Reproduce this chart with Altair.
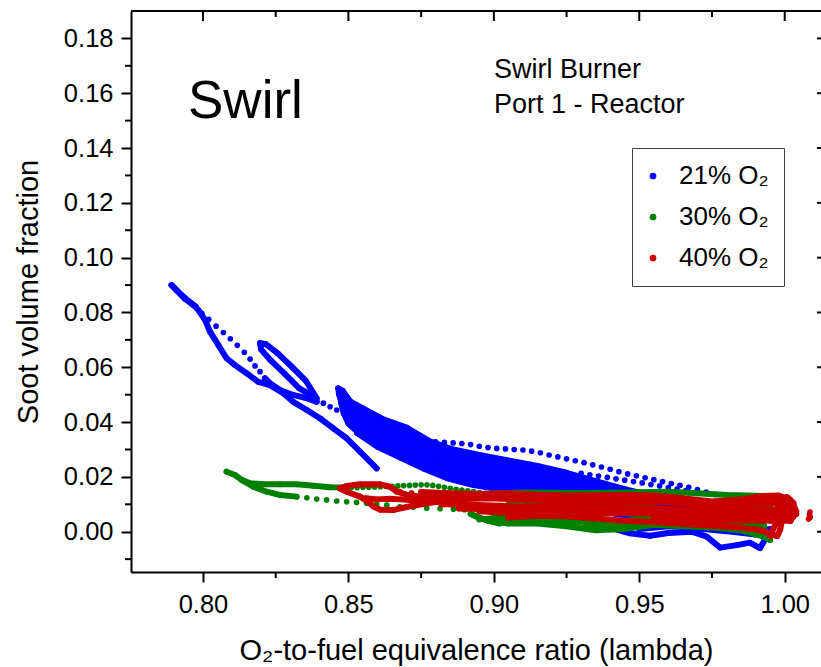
import altair as alt
import pandas as pd

FONT = "Liberation Sans"
SERIES = ["21% O₂", "30% O₂", "40% O₂"]
COLORS = ["#0000FF", "#008000", "#C80000"]

X_MAJOR = [0.80, 0.85, 0.90, 0.95, 1.00]
X_MINOR = [0.825, 0.875, 0.925, 0.975]
Y_MAJOR = [0.00, 0.02, 0.04, 0.06, 0.08, 0.10, 0.12, 0.14, 0.16, 0.18]
Y_MINOR = [-0.01, 0.01, 0.03, 0.05, 0.07, 0.09, 0.11, 0.13, 0.15, 0.17]

ANNOT = ["Swirl", "Swirl Burner", "Port 1 - Reactor"]

# ---- 21% O2 (blue) : continuous trajectories (lambda, soot fv) ----
BLUE_RUNS = [
    [(0.7892, 0.0900), (0.7932, 0.0858), (0.7967, 0.0827), (0.7984, 0.0809), (0.8007, 0.0773),
     (0.8024, 0.0730), (0.8053, 0.0681), (0.8081, 0.0633), (0.8110, 0.0608), (0.8150, 0.0578),
     (0.8190, 0.0547), (0.8230, 0.0535), (0.8276, 0.0505), (0.8310, 0.0474), (0.8357, 0.0444),
     (0.8402, 0.0414), (0.8448, 0.0377), (0.8494, 0.0341), (0.8540, 0.0292), (0.8586, 0.0243),
     (0.8597, 0.0231)],
    [(0.7892, 0.0900), (0.7940, 0.0848), (0.7975, 0.0822)],
    [(0.8213, 0.0560), (0.8230, 0.0542), (0.8265, 0.0517), (0.8310, 0.0499), (0.8357, 0.0487),
     (0.8391, 0.0474)],
    [(0.8196, 0.0688), (0.8215, 0.0685), (0.8257, 0.0651), (0.8306, 0.0601), (0.8354, 0.0550),
     (0.8391, 0.0487), (0.8330, 0.0524), (0.8282, 0.0575), (0.8233, 0.0625), (0.8200, 0.0665),
     (0.8196, 0.0688)],
    [(0.8465, 0.0523), (0.8480, 0.0515), (0.8494, 0.0493), (0.8511, 0.0469), (0.8495, 0.0465),
     (0.8477, 0.0474), (0.8468, 0.0500), (0.8465, 0.0523)],
    [(0.8470, 0.0505), (0.8475, 0.0470), (0.8485, 0.0430), (0.8500, 0.0395), (0.8530, 0.0365)],
    [(0.848, 0.049), (0.855, 0.045), (0.862, 0.041), (0.870, 0.038), (0.878, 0.033), (0.886, 0.030),
     (0.895, 0.028), (0.905, 0.026), (0.915, 0.024), (0.925, 0.0215), (0.935, 0.0185), (0.945, 0.0155),
     (0.955, 0.013), (0.965, 0.011), (0.975, 0.009), (0.985, 0.007), (0.992, 0.0055)],
    [(0.8485, 0.0475), (0.8555, 0.0435), (0.8625, 0.0400), (0.8705, 0.0365), (0.8785, 0.0320),
     (0.8865, 0.0288), (0.8955, 0.0268), (0.9055, 0.0248), (0.9155, 0.0228), (0.9255, 0.0203),
     (0.9355, 0.0175), (0.9455, 0.0145), (0.9555, 0.0122), (0.9655, 0.0102), (0.9755, 0.0082),
     (0.9855, 0.0062), (0.9925, 0.0048)],
    [(0.849, 0.046), (0.856, 0.042), (0.863, 0.039), (0.871, 0.035), (0.879, 0.031), (0.887, 0.0275),
     (0.896, 0.0255), (0.906, 0.0235), (0.916, 0.0215), (0.926, 0.019), (0.936, 0.0165), (0.946, 0.0135),
     (0.956, 0.0115), (0.966, 0.0095), (0.976, 0.0075), (0.986, 0.0055), (0.993, 0.004)],
    [(0.8495, 0.0445), (0.8565, 0.0405), (0.8635, 0.0370), (0.8715, 0.0330), (0.8795, 0.0288),
     (0.8880, 0.0258), (0.8970, 0.0240), (0.9070, 0.0218), (0.9170, 0.0198), (0.9270, 0.0172),
     (0.9370, 0.0148), (0.9470, 0.0120), (0.9570, 0.0100), (0.9670, 0.0080), (0.9770, 0.0062),
     (0.9870, 0.0045)],
    [(0.850, 0.043), (0.857, 0.039), (0.864, 0.035), (0.872, 0.031), (0.880, 0.0265), (0.889, 0.024),
     (0.898, 0.0225), (0.908, 0.020), (0.918, 0.018), (0.928, 0.0155), (0.938, 0.013), (0.948, 0.0105),
     (0.958, 0.0085), (0.968, 0.0065), (0.978, 0.005), (0.988, 0.0035)],
    [(0.8505, 0.0415), (0.8575, 0.0370), (0.8650, 0.0330), (0.8730, 0.0290), (0.8810, 0.0250),
     (0.8900, 0.0225), (0.8990, 0.0208), (0.9090, 0.0183), (0.9190, 0.0160), (0.9290, 0.0138),
     (0.9390, 0.0112), (0.9490, 0.0090), (0.9590, 0.0070), (0.9690, 0.0052), (0.9790, 0.0038),
     (0.9890, 0.0022)],
    [(0.851, 0.040), (0.858, 0.035), (0.866, 0.031), (0.874, 0.027), (0.882, 0.0235), (0.891, 0.021),
     (0.900, 0.019), (0.910, 0.0165), (0.920, 0.014), (0.930, 0.012), (0.940, 0.0095), (0.950, 0.0075),
     (0.960, 0.0055), (0.970, 0.004), (0.980, 0.0025), (0.990, 0.001)],
    [(0.852, 0.038), (0.859, 0.033), (0.867, 0.029), (0.875, 0.025), (0.883, 0.0215), (0.892, 0.019),
     (0.901, 0.0172), (0.911, 0.0148), (0.921, 0.0125), (0.931, 0.0105), (0.941, 0.008), (0.951, 0.006),
     (0.961, 0.004), (0.971, 0.0025), (0.981, 0.0012), (0.990, 0.000)],
    [(0.853, 0.036), (0.860, 0.031), (0.868, 0.027), (0.876, 0.023), (0.884, 0.0195), (0.893, 0.017),
     (0.902, 0.0155), (0.912, 0.013), (0.922, 0.011), (0.932, 0.009), (0.942, 0.0065), (0.952, 0.0045),
     (0.962, 0.0025), (0.972, 0.001), (0.982, 0.000), (0.990, -0.001)],
    [(0.9400, 0.0015), (0.9468, -0.0006), (0.9537, -0.0015), (0.9600, -0.0005), (0.9680, 0.0000),
     (0.9732, -0.0018), (0.9778, -0.0058), (0.9835, -0.0049), (0.9880, -0.0040), (0.9915, -0.0060),
     (0.9938, -0.0018)],
    [(0.9500, 0.0010), (0.9600, 0.0020), (0.9700, 0.0015), (0.9800, 0.0005), (0.9900, -0.0005),
     (0.9950, 0.0010)],
]
# sparse (dotted-looking) blue samples
BLUE_DOTS = [
    (0.7996, 0.0797), (0.8020, 0.0775), (0.8045, 0.0750), (0.8070, 0.0727), (0.8094, 0.0704),
    (0.8118, 0.0680), (0.8142, 0.0655), (0.8162, 0.0630), (0.8179, 0.0605), (0.8196, 0.0584),
    (0.8414, 0.0469), (0.8437, 0.0456), (0.8460, 0.0444), (0.8483, 0.0432),
    (0.880, 0.0328), (0.883, 0.0326), (0.886, 0.0324), (0.889, 0.0322), (0.892, 0.0318),
    (0.895, 0.0312), (0.898, 0.0307), (0.901, 0.0304), (0.904, 0.0302), (0.907, 0.0300),
    (0.910, 0.0298), (0.913, 0.0294), (0.916, 0.0288), (0.919, 0.0280), (0.922, 0.0273),
    (0.925, 0.0266), (0.928, 0.0259), (0.931, 0.0252), (0.934, 0.0244), (0.937, 0.0236),
    (0.940, 0.0228), (0.943, 0.0219), (0.946, 0.0211), (0.949, 0.0204), (0.952, 0.0197),
    (0.955, 0.0190), (0.958, 0.0183), (0.961, 0.0176), (0.964, 0.0169), (0.967, 0.0162),
    (0.970, 0.0154), (0.973, 0.0145), (0.976, 0.0136),
    (0.930, 0.0213), (0.933, 0.0208), (0.936, 0.0203), (0.939, 0.0198), (0.942, 0.0193),
    (0.945, 0.0188), (0.948, 0.0183), (0.951, 0.0178), (0.954, 0.0172), (0.957, 0.0167),
    (0.960, 0.0161), (0.963, 0.0156), (0.966, 0.0150),
]

# ---- 30% O2 (green) ----
GREEN_RUNS = [
    [(0.8081, 0.0219), (0.8110, 0.0207), (0.8133, 0.0189), (0.8162, 0.0177), (0.8207, 0.0173),
     (0.8265, 0.0173), (0.8322, 0.0173), (0.8380, 0.0168), (0.8437, 0.0162), (0.8494, 0.0161)],
    [(0.8133, 0.0189), (0.8173, 0.0164), (0.8219, 0.0146), (0.8265, 0.0134), (0.8322, 0.0128)],
    [(0.8920, 0.0065), (0.8950, 0.0050), (0.9000, 0.0035), (0.9020, 0.0030)],
    [(0.900, 0.0140), (0.910, 0.0143), (0.920, 0.0142), (0.930, 0.0141), (0.940, 0.0142), (0.950, 0.0144),
     (0.960, 0.0146), (0.970, 0.0140), (0.980, 0.0134), (0.990, 0.0131), (0.998, 0.0130)],
    [(0.893, 0.0060), (0.898, 0.0040), (0.905, 0.0030), (0.915, 0.0030), (0.925, 0.0020), (0.935, 0.0005),
     (0.945, 0.0010), (0.955, 0.0025), (0.965, 0.0020), (0.975, 0.0015), (0.985, 0.0005), (0.992, -0.0015),
     (0.995, -0.0030)],
    [(0.900, 0.0050), (0.910, 0.0045), (0.920, 0.0040), (0.930, 0.0015), (0.940, 0.0020), (0.950, 0.0035),
     (0.960, 0.0030), (0.970, 0.0028), (0.980, 0.0020), (0.990, 0.0008), (0.995, -0.0010)],
    [(0.895, 0.0045), (0.905, 0.0055), (0.915, 0.0065), (0.925, 0.0045), (0.935, 0.0030), (0.945, 0.0040),
     (0.955, 0.0055), (0.965, 0.0045), (0.975, 0.0040), (0.985, 0.0030), (0.993, 0.0020)],
    [(0.900, 0.0085), (0.910, 0.0080), (0.920, 0.0075), (0.930, 0.0065), (0.940, 0.0070), (0.950, 0.0075),
     (0.960, 0.0070), (0.970, 0.0065), (0.980, 0.0060), (0.990, 0.0050), (0.996, 0.0045)],
    [(0.905, 0.0115), (0.915, 0.0110), (0.925, 0.0105), (0.935, 0.0100), (0.945, 0.0105), (0.955, 0.0110),
     (0.965, 0.0105), (0.975, 0.0100), (0.985, 0.0095), (0.995, 0.0090)],
]
GREEN_DOTS = [
    (0.8357, 0.0124), (0.8391, 0.0119), (0.8425, 0.0116), (0.8460, 0.0112), (0.8494, 0.0109),
    (0.8528, 0.0107), (0.8563, 0.0104), (0.8597, 0.0100), (0.8632, 0.0097), (0.8677, 0.0091),
    (0.8723, 0.0089), (0.8769, 0.0086), (0.8815, 0.0084), (0.8861, 0.0082), (0.8900, 0.0080),
    (0.851, 0.0161), (0.853, 0.0161), (0.855, 0.0162), (0.857, 0.0162), (0.859, 0.0163),
    (0.861, 0.0164), (0.863, 0.0165), (0.865, 0.0166), (0.867, 0.0167), (0.869, 0.0168),
    (0.871, 0.0169), (0.873, 0.0170), (0.875, 0.0171), (0.877, 0.0171), (0.879, 0.0169),
    (0.881, 0.0166), (0.883, 0.0162), (0.885, 0.0158), (0.887, 0.0155), (0.889, 0.0152),
    (0.891, 0.0149), (0.893, 0.0146), (0.895, 0.0143), (0.897, 0.0140), (0.899, 0.0138),
]

# ---- 40% O2 (red) ----
RED_RUNS = [
    [(0.8471, 0.0158), (0.8494, 0.0167), (0.8540, 0.0173), (0.8580, 0.0173), (0.8609, 0.0173),
     (0.8643, 0.0164), (0.8666, 0.0146), (0.8700, 0.0135), (0.8750, 0.0128), (0.8800, 0.0125)],
    [(0.8471, 0.0158), (0.8494, 0.0146), (0.8540, 0.0128), (0.8570, 0.0108), (0.8586, 0.0092),
     (0.8610, 0.0080), (0.8654, 0.0079), (0.8700, 0.0090), (0.8750, 0.0100), (0.8800, 0.0108),
     (0.8850, 0.0110)],
    [(0.8560, 0.0122), (0.8600, 0.0118), (0.8640, 0.0120), (0.8680, 0.0118), (0.8720, 0.0115),
     (0.8770, 0.0113), (0.8820, 0.0115)],
    [(0.875, 0.0145), (0.885, 0.0140), (0.895, 0.0138), (0.905, 0.0140), (0.915, 0.0135), (0.925, 0.0132),
     (0.935, 0.0133), (0.945, 0.0134), (0.955, 0.0132), (0.965, 0.0122), (0.975, 0.0110), (0.985, 0.0118),
     (0.992, 0.0130), (0.998, 0.0132), (1.002, 0.0115)],
    [(0.880, 0.0132), (0.890, 0.0130), (0.900, 0.0131), (0.910, 0.0126), (0.920, 0.0122), (0.930, 0.0120),
     (0.940, 0.0122), (0.950, 0.0123), (0.960, 0.0118), (0.970, 0.0112), (0.980, 0.0104), (0.990, 0.0120),
     (0.998, 0.0122)],
    [(0.878, 0.0120), (0.888, 0.0118), (0.898, 0.0122), (0.908, 0.0118), (0.918, 0.0112), (0.928, 0.0108),
     (0.938, 0.0110), (0.948, 0.0112), (0.958, 0.0108), (0.968, 0.0100), (0.978, 0.0095), (0.988, 0.0102),
     (0.996, 0.0105), (1.003, 0.0095)],
    [(0.882, 0.0100), (0.892, 0.0098), (0.902, 0.0095), (0.912, 0.0092), (0.922, 0.0090), (0.932, 0.0088),
     (0.942, 0.0090), (0.952, 0.0088), (0.962, 0.0082), (0.972, 0.0078), (0.982, 0.0080), (0.992, 0.0082),
     (1.000, 0.0080), (1.004, 0.0075)],
    [(0.888, 0.0085), (0.898, 0.0082), (0.908, 0.0080), (0.918, 0.0082), (0.928, 0.0079), (0.938, 0.0077),
     (0.948, 0.0079), (0.958, 0.0075), (0.968, 0.0070), (0.978, 0.0068), (0.988, 0.0072), (0.998, 0.0070)],
    [(0.895, 0.0075), (0.905, 0.0068), (0.915, 0.0072), (0.925, 0.0070), (0.935, 0.0066), (0.945, 0.0068),
     (0.955, 0.0065), (0.965, 0.0060), (0.975, 0.0058), (0.985, 0.0060), (0.995, 0.0058), (1.003, 0.0055)],
    [(0.905, 0.0052), (0.915, 0.0058), (0.925, 0.0056), (0.935, 0.0048), (0.945, 0.0040), (0.955, 0.0035),
     (0.965, 0.0028), (0.975, 0.0022), (0.985, 0.0015), (0.992, 0.0005), (0.997, -0.0015)],
    [(0.960, 0.0115), (0.970, 0.0105), (0.980, 0.0110), (0.990, 0.0112), (0.998, 0.0110)],
    [(0.955, 0.0050), (0.965, 0.0045), (0.975, 0.0040), (0.985, 0.0042), (0.995, 0.0040), (1.002, 0.0040)],
    [(0.970, 0.0088), (0.980, 0.0068), (0.990, 0.0070), (0.998, 0.0068), (1.004, 0.0065)],
    [(0.994, 0.0130), (0.998, 0.0120), (1.001, 0.0105), (1.003, 0.0090), (1.0035, 0.0075), (1.002, 0.0060),
     (0.999, 0.0045), (0.997, 0.0030), (0.996, 0.0010), (0.995, -0.0015)],
    [(0.9960, 0.0130), (0.9975, 0.0100), (0.9985, 0.0070), (0.9990, 0.0040), (0.9985, 0.0010),
     (0.9975, -0.0015)],
    [(1.0010, 0.0125), (1.0030, 0.0105), (1.0035, 0.0085), (1.0030, 0.0060), (1.0020, 0.0040)],
]
RED_DOTS = [
    (0.8677, 0.0146), (0.8717, 0.0142), (0.8757, 0.0140), (0.8790, 0.0137), (0.8830, 0.0134),
    (1.0006, 0.0127), (1.0087, 0.0072), (1.0085, 0.0062), (1.0088, 0.0053), (1.0082, 0.0046),
]

xs = alt.Scale(domain=[0.77525, 1.01248], nice=False, zero=False)
ys = alt.Scale(domain=[-0.0147, 0.1900], nice=False, zero=False)

x_axis = alt.Axis(values=X_MAJOR, format=".2f", title="O₂-to-fuel equivalence ratio (lambda)",
                  grid=False, tickSize=10, tickWidth=2, tickColor="black", domainWidth=2,
                  domainColor="black", labelFontSize=25.5, labelColor="black", labelPadding=10,
                  labelFont=FONT, titleFont=FONT, titleFontSize=29, titleFontWeight="normal",
                  titleColor="black", titleBaseline="alphabetic", titleY=87, labelFlush=False,
                  labelOverlap=False)
y_axis = alt.Axis(values=Y_MAJOR, format=".2f", title="Soot volume fraction",
                  grid=False, tickSize=10, tickWidth=2, tickColor="black", domainWidth=2,
                  domainColor="black", labelFontSize=25.5, labelColor="black", labelPadding=8,
                  labelFont=FONT, titleFont=FONT, titleFontSize=29, titleFontWeight="normal",
                  titleColor="black", titleBaseline="alphabetic", titleX=-94, titleY=280.5,
                  labelFlush=False, labelOverlap=False)

X = alt.X("lam:Q", scale=xs, axis=x_axis)
Y = alt.Y("fv:Q", scale=ys, axis=y_axis)
C = alt.Color("series:N", scale=alt.Scale(domain=SERIES, range=COLORS), legend=alt.Legend(title=None))


def runs_df(runs, name):
    rows = []
    for r, run in enumerate(runs):
        for i, (lam, fv) in enumerate(run):
            rows.append({"lam": lam, "fv": fv, "run": f"r{r}", "i": i, "series": name})
    return pd.DataFrame(rows)


def pts_df(runs, dots, name):
    rows = [{"lam": lam, "fv": fv, "series": name} for run in runs for (lam, fv) in run]
    rows += [{"lam": lam, "fv": fv, "series": name} for (lam, fv) in dots]
    return pd.DataFrame(rows)


layers = []
for name, color, runs, dots in [(SERIES[0], COLORS[0], BLUE_RUNS, BLUE_DOTS),
                                (SERIES[1], COLORS[1], GREEN_RUNS, GREEN_DOTS),
                                (SERIES[2], COLORS[2], RED_RUNS, RED_DOTS)]:
    line = alt.Chart(runs_df(runs, name)).mark_line(
        color=color, strokeWidth=6, strokeCap="round", strokeJoin="round"
    ).encode(x=X, y=Y, detail="run:N", order="i:Q")
    pts = alt.Chart(pts_df(runs, dots, name)).mark_circle(size=32, opacity=1).encode(x=X, y=Y, color=C)
    layers += [line, pts]

# frame decorations: top line, minor ticks, inward ticks on top/right
top_line = alt.Chart(pd.DataFrame({"v": [0]})).mark_rule(color="black", strokeWidth=2).encode(
    x=alt.value(0), x2=alt.value(690), y=alt.value(0))
ly_minor = alt.Chart(pd.DataFrame({"fv": Y_MINOR})).mark_rule(color="black", strokeWidth=2).encode(
    y=Y, x=alt.value(-6), x2=alt.value(0))
ry_major = alt.Chart(pd.DataFrame({"fv": Y_MAJOR})).mark_rule(color="black", strokeWidth=2).encode(
    y=Y, x=alt.value(686), x2=alt.value(690))
bx_minor = alt.Chart(pd.DataFrame({"lam": X_MINOR})).mark_rule(color="black", strokeWidth=2).encode(
    x=X, y=alt.value(561), y2=alt.value(567))
tx_major = alt.Chart(pd.DataFrame({"lam": X_MAJOR})).mark_rule(color="black", strokeWidth=2).encode(
    x=X, y=alt.value(0), y2=alt.value(10))
tx_minor = alt.Chart(pd.DataFrame({"lam": X_MINOR})).mark_rule(color="black", strokeWidth=2).encode(
    x=X, y=alt.value(0), y2=alt.value(6))

t1 = alt.Chart(pd.DataFrame({"t": [ANNOT[0]]})).mark_text(
    font=FONT, fontSize=53, align="left", baseline="alphabetic", color="black"
).encode(text="t:N", x=alt.value(57), y=alt.value(107))
t2 = alt.Chart(pd.DataFrame({"t": [ANNOT[1]]})).mark_text(
    font=FONT, fontSize=27, align="left", baseline="alphabetic", color="black"
).encode(text="t:N", x=alt.value(363), y=alt.value(67))
t3 = alt.Chart(pd.DataFrame({"t": [ANNOT[2]]})).mark_text(
    font=FONT, fontSize=27, align="left", baseline="alphabetic", color="black"
).encode(text="t:N", x=alt.value(363), y=alt.value(102))

chart = alt.layer(*layers, top_line, ly_minor, ry_major, bx_minor, tx_major, tx_minor, t1, t2, t3).properties(
    width=690, height=561,
    padding={"left": 131, "top": 11, "right": 0, "bottom": 95},
    autosize=alt.AutoSizeParams(type="none"),
).configure_view(strokeWidth=0).configure(font=FONT).configure_legend(
    orient="none", legendX=501, legendY=137, strokeColor="#404040", strokeWidth=1,
    fillColor="white", padding=15, labelFontSize=26, labelFont=FONT, labelColor="black",
    symbolSize=45, symbolType="circle", rowPadding=15, labelOffset=13, symbolOffset=-7,
    symbolStrokeWidth=0,
)

chart.save("out.html", embed_options={"renderer": "svg", "actions": False})
